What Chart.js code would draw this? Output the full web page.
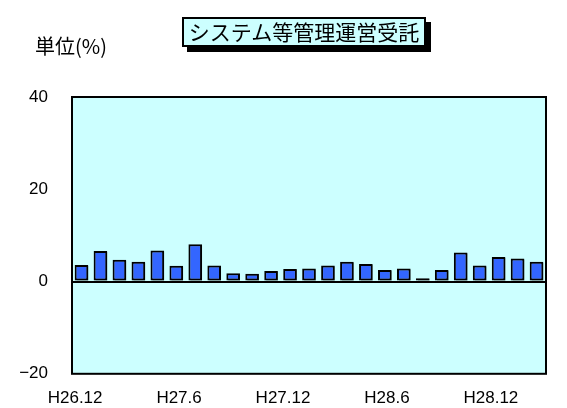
<!DOCTYPE html>
<html lang="ja">
<head>
<meta charset="utf-8">
<script src="https://cdn.jsdelivr.net/npm/chart.js@4"></script>
<style>
  body { margin: 0; background: #fff; }
  #wrap { position: relative; width: 567px; height: 408px; }
  #title {
    position: absolute; left: 182px; top: 17px; width: 244px; height: 30px;
    box-sizing: border-box; border: 2px solid #000; background: #ccffff;
    box-shadow: 5px 5px 0 #000;
    font: 21px "Noto Sans CJK JP", sans-serif; line-height: 25px; text-align: center;
  }
  #unit {
    position: absolute; left: 35px; top: 31px;
    font: 20px "Noto Sans CJK JP", sans-serif;
  }
</style>
</head>
<body>
<div id="wrap">
  <canvas id="c" width="567" height="408"></canvas>
  <div id="title">システム等管理運営受託</div>
  <div id="unit">単位(%)</div>
</div>
<script>
/* ==== data ========================================================= */
const months = [
  'H26.12', 'H27.1', 'H27.2', 'H27.3', 'H27.4', 'H27.5', 'H27.6', 'H27.7', 'H27.8',
  'H27.9', 'H27.10', 'H27.11', 'H27.12', 'H28.1', 'H28.2', 'H28.3', 'H28.4', 'H28.5',
  'H28.6', 'H28.7', 'H28.8', 'H28.9', 'H28.10', 'H28.11', 'H28.12'
];
const values = [3.6, 6.6, 4.7, 4.3, 6.7, 3.4, 8.1, 3.5, 1.8, 1.7, 2.3, 2.7, 2.8,
                3.5, 4.3, 3.8, 2.5, 2.8, 0.7, 2.5, 6.3, 3.5, 5.3, 5.0, 4.3];
const xTicks = ['H26.12', 'H27.6', 'H27.12', 'H28.6', 'H28.12'];
const yTicks = [-20, 0, 20, 40];

/* ==== plot frame =================================================== */
const frame = {
  id: 'frame',
  beforeDraw(chart) {
    const { ctx, chartArea: a } = chart;
    ctx.save();
    ctx.fillStyle = '#ccffff';
    ctx.fillRect(a.left, a.top, a.right - a.left, a.bottom - a.top);
    ctx.restore();
  },
  beforeDatasetsDraw(chart) {
    const ctx = chart.ctx;
    ctx.save();
    ctx.shadowColor = 'rgba(0,0,0,0.35)';
    ctx.shadowOffsetX = 2;
    ctx.shadowOffsetY = 1;
  },
  afterDatasetsDraw(chart) { chart.ctx.restore(); },
  afterDraw(chart) {
    const { ctx, chartArea: a } = chart;
    ctx.save();
    ctx.strokeStyle = '#000';
    ctx.lineWidth = 2;
    ctx.strokeRect(a.left, a.top, a.right - a.left, a.bottom - a.top);
    ctx.restore();
  }
};

/* ==== chart ======================================================== */
new Chart(document.getElementById('c'), {
  type: 'bar',
  data: {
    labels: months,
    datasets: [{
      data: values,
      xAxisID: 'x',
      backgroundColor: '#3366ff',
      borderColor: '#000',
      borderWidth: 2,
      borderSkipped: false,
      categoryPercentage: 1,
      barPercentage: 0.72
    }]
  },
  options: {
    responsive: false,
    animation: false,
    events: [],
    layout: { padding: { top: 97, right: 21, left: 0, bottom: 0 } },
    plugins: { legend: { display: false }, tooltip: { enabled: false } },
    scales: {
      x: { display: false, offset: true },
      x2: {
        type: 'linear', position: 'bottom', offset: false,
        min: -0.03, max: 4.53,
        afterFit: s => { s.height = 34; },
        afterBuildTicks: s => { s.ticks = xTicks.map((_, i) => ({ value: i })); },
        grid: { display: false, offset: false }, border: { display: false },
        ticks: {
          autoSkip: false, maxRotation: 0, padding: 6, color: '#000',
          font: { family: 'Liberation Sans', size: 17 },
          callback: v => xTicks[v]
        }
      },
      y: {
        min: -20, max: 40, z: 1,
        afterFit: s => { s.width = 72; },
        afterBuildTicks: s => { s.ticks = yTicks.map(v => ({ value: v })); },
        border: { display: false },
        grid: {
          drawTicks: false,
          lineWidth: 2,
          color: c => (c.tick && c.tick.value === 0 ? '#000' : 'transparent')
        },
        ticks: {
          padding: 24, color: '#000',
          font: { family: 'Liberation Sans', size: 17 },
          callback: v => (v < 0 ? '\u2212' + Math.abs(v) : String(v))
        }
      }
    }
  },
  plugins: [frame]
});
</script>
</body>
</html>
